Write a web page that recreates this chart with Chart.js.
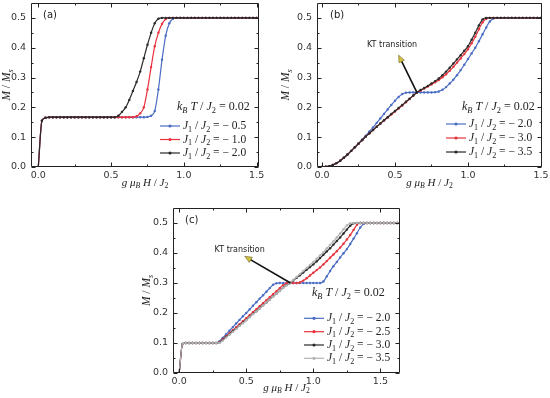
<!DOCTYPE html>
<html>
<head>
<meta charset="utf-8">
<script src="https://cdn.jsdelivr.net/npm/chart.js@4.4.0/dist/chart.umd.min.js"></script>
<style>
  body { margin: 0; background: #fff; width: 550px; height: 398px; position: relative; overflow: hidden; }
  .panel { position: absolute; }
  canvas { display: block; }
</style>
</head>
<body>
<div class="panel" style="left:0;top:0"><canvas id="chartA" width="275" height="195"></canvas></div>
<div class="panel" style="left:275px;top:0"><canvas id="chartB" width="275" height="195"></canvas></div>
<div class="panel" style="left:140px;top:195px"><canvas id="chartC" width="280" height="203"></canvas></div>
<script>
// field values g*muB*H/J2
var fieldAB = [0, 0.025, 0.05, 0.075, 0.1, 0.125, 0.15, 0.175, 0.2, 0.225,
  0.25, 0.275, 0.3, 0.325, 0.35, 0.375, 0.4, 0.425, 0.45, 0.475,
  0.5, 0.525, 0.55, 0.575, 0.6, 0.625, 0.65, 0.675, 0.7, 0.725,
  0.75, 0.775, 0.8, 0.825, 0.85, 0.875, 0.9, 0.925, 0.95, 0.975,
  1.0, 1.025, 1.05, 1.075, 1.1, 1.125, 1.15, 1.175, 1.2, 1.225,
  1.25, 1.275, 1.3, 1.325, 1.35, 1.375, 1.4, 1.425, 1.45, 1.475, 1.5];
var fieldC = [0, 0.025, 0.05, 0.075, 0.1, 0.125, 0.15, 0.175, 0.2, 0.225,
  0.25, 0.275, 0.3, 0.325, 0.35, 0.375, 0.4, 0.425, 0.45, 0.475,
  0.5, 0.525, 0.55, 0.575, 0.6, 0.625, 0.65, 0.675, 0.7, 0.725,
  0.75, 0.775, 0.8, 0.825, 0.85, 0.875, 0.9, 0.925, 0.95, 0.975,
  1.0, 1.025, 1.05, 1.075, 1.1, 1.125, 1.15, 1.175, 1.2, 1.225,
  1.25, 1.275, 1.3, 1.325, 1.35, 1.375, 1.4, 1.425, 1.45, 1.475,
  1.5, 1.525, 1.55, 1.575, 1.6, 1.625, 1.65];

// panel (a): M/Ms
var magA05 = [0, 0.155, 0.165, 0.167, 0.167, 0.167, 0.167, 0.167, 0.167, 0.167,
  0.167, 0.167, 0.167, 0.167, 0.167, 0.167, 0.167, 0.167, 0.167, 0.167,
  0.167, 0.167, 0.167, 0.167, 0.167, 0.167, 0.167, 0.167, 0.167, 0.167,
  0.168, 0.172, 0.188, 0.26, 0.36, 0.44, 0.482, 0.497, 0.5, 0.5,
  0.5, 0.5, 0.5, 0.5, 0.5, 0.5, 0.5, 0.5, 0.5, 0.5,
  0.5, 0.5, 0.5, 0.5, 0.5, 0.5, 0.5, 0.5, 0.5, 0.5, 0.5];
var magA10 = [0, 0.155, 0.165, 0.167, 0.167, 0.167, 0.167, 0.167, 0.167, 0.167,
  0.167, 0.167, 0.167, 0.167, 0.167, 0.167, 0.167, 0.167, 0.167, 0.167,
  0.167, 0.167, 0.167, 0.167, 0.167, 0.167, 0.167, 0.17, 0.18, 0.2,
  0.26, 0.335, 0.405, 0.45, 0.48, 0.496, 0.5, 0.5, 0.5, 0.5,
  0.5, 0.5, 0.5, 0.5, 0.5, 0.5, 0.5, 0.5, 0.5, 0.5,
  0.5, 0.5, 0.5, 0.5, 0.5, 0.5, 0.5, 0.5, 0.5, 0.5, 0.5];
var magA20 = [0, 0.155, 0.165, 0.167, 0.167, 0.167, 0.167, 0.167, 0.167, 0.167,
  0.167, 0.167, 0.167, 0.167, 0.167, 0.167, 0.167, 0.167, 0.167, 0.167,
  0.167, 0.167, 0.172, 0.185, 0.2, 0.225, 0.255, 0.285, 0.32, 0.365,
  0.41, 0.45, 0.482, 0.497, 0.5, 0.5, 0.5, 0.5, 0.5, 0.5,
  0.5, 0.5, 0.5, 0.5, 0.5, 0.5, 0.5, 0.5, 0.5, 0.5,
  0.5, 0.5, 0.5, 0.5, 0.5, 0.5, 0.5, 0.5, 0.5, 0.5, 0.5];

// panel (b)
var magB20 = [0, 0.001, 0.003, 0.007, 0.013, 0.021, 0.031, 0.042, 0.054, 0.066,
  0.079, 0.092, 0.105, 0.119, 0.133, 0.148, 0.163, 0.178, 0.193, 0.208,
  0.222, 0.235, 0.245, 0.249, 0.25, 0.25, 0.25, 0.25, 0.25, 0.25,
  0.25, 0.251, 0.253, 0.259, 0.268, 0.28, 0.293, 0.308, 0.325, 0.343,
  0.362, 0.381, 0.4, 0.422, 0.445, 0.468, 0.488, 0.498, 0.5, 0.5,
  0.5, 0.5, 0.5, 0.5, 0.5, 0.5, 0.5, 0.5, 0.5, 0.5, 0.5];
var magB30 = [0, 0.001, 0.003, 0.007, 0.013, 0.021, 0.031, 0.042, 0.054, 0.066,
  0.078, 0.09, 0.102, 0.113, 0.124, 0.135, 0.146, 0.156, 0.166, 0.176,
  0.186, 0.196, 0.206, 0.217, 0.228, 0.239, 0.25, 0.256, 0.263, 0.27,
  0.277, 0.284, 0.292, 0.301, 0.311, 0.323, 0.336, 0.35, 0.364, 0.379,
  0.395, 0.415, 0.437, 0.462, 0.485, 0.497, 0.5, 0.5, 0.5, 0.5,
  0.5, 0.5, 0.5, 0.5, 0.5, 0.5, 0.5, 0.5, 0.5, 0.5, 0.5];
var magB35 = [0, 0.001, 0.003, 0.007, 0.013, 0.021, 0.031, 0.042, 0.054, 0.066,
  0.078, 0.09, 0.102, 0.113, 0.124, 0.135, 0.146, 0.157, 0.167, 0.178,
  0.188, 0.198, 0.208, 0.219, 0.229, 0.24, 0.25, 0.258, 0.265, 0.272,
  0.28, 0.288, 0.297, 0.308, 0.32, 0.333, 0.347, 0.361, 0.375, 0.39,
  0.405, 0.427, 0.45, 0.475, 0.495, 0.5, 0.5, 0.5, 0.5, 0.5,
  0.5, 0.5, 0.5, 0.5, 0.5, 0.5, 0.5, 0.5, 0.5, 0.5, 0.5];

// panel (c)
var magC20 = [0, 0.097, 0.1, 0.1, 0.1, 0.1, 0.1, 0.1, 0.1, 0.1,
  0.1, 0.1, 0.106, 0.117, 0.129, 0.141, 0.153, 0.165, 0.177, 0.189,
  0.2, 0.212, 0.224, 0.236, 0.248, 0.259, 0.271, 0.283, 0.294, 0.299,
  0.3, 0.3, 0.3, 0.3, 0.3, 0.3, 0.3, 0.3, 0.3, 0.3,
  0.3, 0.3, 0.3, 0.305, 0.322, 0.34, 0.356, 0.37, 0.385, 0.399,
  0.413, 0.43, 0.448, 0.466, 0.485, 0.497, 0.5, 0.5, 0.5, 0.5,
  0.5, 0.5, 0.5, 0.5, 0.5, 0.5, 0.5];
var magC25 = [0, 0.097, 0.1, 0.1, 0.1, 0.1, 0.1, 0.1, 0.1, 0.1,
  0.1, 0.1, 0.103, 0.113, 0.123, 0.133, 0.143, 0.153, 0.163, 0.173,
  0.183, 0.193, 0.203, 0.213, 0.223, 0.233, 0.243, 0.253, 0.263, 0.273,
  0.283, 0.293, 0.299, 0.3, 0.3, 0.3, 0.302, 0.308, 0.316, 0.325,
  0.334, 0.343, 0.352, 0.362, 0.373, 0.384, 0.395, 0.406, 0.418, 0.431,
  0.445, 0.46, 0.477, 0.494, 0.5, 0.5, 0.5, 0.5, 0.5, 0.5,
  0.5, 0.5, 0.5, 0.5, 0.5, 0.5, 0.5];
var magC30 = [0, 0.097, 0.1, 0.1, 0.1, 0.1, 0.1, 0.1, 0.1, 0.1,
  0.1, 0.1, 0.102, 0.11, 0.12, 0.129, 0.139, 0.148, 0.158, 0.168,
  0.177, 0.187, 0.197, 0.206, 0.216, 0.226, 0.235, 0.245, 0.255, 0.264,
  0.274, 0.284, 0.293, 0.3, 0.308, 0.317, 0.326, 0.335, 0.344, 0.353,
  0.362, 0.372, 0.383, 0.394, 0.405, 0.416, 0.428, 0.44, 0.452, 0.465,
  0.478, 0.491, 0.499, 0.5, 0.5, 0.5, 0.5, 0.5, 0.5, 0.5,
  0.5, 0.5, 0.5, 0.5, 0.5, 0.5, 0.5];
var magC35 = [0, 0.097, 0.1, 0.1, 0.1, 0.1, 0.1, 0.1, 0.1, 0.1,
  0.1, 0.1, 0.101, 0.108, 0.118, 0.128, 0.137, 0.147, 0.157, 0.166,
  0.176, 0.186, 0.196, 0.205, 0.215, 0.225, 0.235, 0.245, 0.254, 0.264,
  0.274, 0.284, 0.292, 0.3, 0.31, 0.32, 0.33, 0.34, 0.35, 0.36,
  0.37, 0.381, 0.392, 0.403, 0.415, 0.427, 0.439, 0.452, 0.465, 0.479,
  0.492, 0.499, 0.5, 0.5, 0.5, 0.5, 0.5, 0.5, 0.5, 0.5,
  0.5, 0.5, 0.5, 0.5, 0.5, 0.5, 0.5];

var ratioA = ['\u2212 0.5', '\u2212 1.0', '\u2212 2.0'];
var ratioB = ['\u2212 2.0', '\u2212 3.0', '\u2212 3.5'];
var ratioC = ['\u2212 2.0', '\u2212 2.5', '\u2212 3.0', '\u2212 3.5'];

var xTicks = [0, 0.5, 1.0, 1.5];
var xMinor = [0.25, 0.75, 1.25];
var yTicks = [0, 0.1, 0.2, 0.3, 0.4, 0.5];
var yMinor = [0.05, 0.15, 0.25, 0.35, 0.45];

var blue = '#4a6cc3', red = '#e8323c', black = '#2b2b2b', grey = '#b3b3b3';
var serif = '"Liberation Serif", "DejaVu Serif", serif';
var sans = '"DejaVu Sans", sans-serif';

// draws text with italic parts and subscripts, returns width
function mathText(ctx, parts, x, y, size, align) {
  var fonts = [], w = 0, i;
  for (i = 0; i < parts.length; i++) {
    var st = parts[i][1];
    var sz = st.charAt(0) == 's' ? size * 0.7 : size;
    fonts.push((st.indexOf('i') >= 0 ? 'italic ' : '') + sz + 'px ' + serif);
    ctx.font = fonts[i];
    w += ctx.measureText(parts[i][0]).width;
  }
  var cx = align == 'center' ? x - w / 2 : x;
  ctx.textAlign = 'left';
  ctx.textBaseline = 'middle';
  for (i = 0; i < parts.length; i++) {
    ctx.font = fonts[i];
    var dy = parts[i][1].charAt(0) == 's' ? size * 0.3 : 0;
    ctx.fillText(parts[i][0], cx, y + dy);
    cx += ctx.measureText(parts[i][0]).width;
  }
  return w;
}

function makeChart(id, field, series, cfg) {
  var n = series.length;
  var datasets = series.map(function (s, k) {
    return {
      label: s.name,
      data: field.map(function (h, i) { return { x: h, y: s.vals[i] }; }),
      borderColor: s.color,
      backgroundColor: s.color,
      borderWidth: 1.2,
      pointRadius: 1.2,
      pointBorderWidth: 0,
      pointHoverRadius: 0,
      showLine: true,
      cubicInterpolationMode: 'monotone',
      order: n - 1 - k
    };
  });

  var deco = {
    id: 'deco',
    afterDraw: function (chart) {
      var ctx = chart.ctx, a = chart.chartArea;
      var xs = chart.scales.x, ys = chart.scales.y;
      ctx.save();
      // frame + inward ticks
      ctx.strokeStyle = '#222';
      ctx.lineWidth = 1;
      var L = Math.round(a.left) + 0.5, R = Math.round(a.right) - 0.5;
      var T = Math.round(a.top) + 0.5, B = Math.round(a.bottom) - 0.5;
      ctx.beginPath();
      ctx.moveTo(L, T); ctx.lineTo(R, T); ctx.lineTo(R, B); ctx.lineTo(L, B); ctx.closePath();
      function xt(v, len) {
        var p = Math.round(xs.getPixelForValue(v)) + 0.5;
        ctx.moveTo(p, B); ctx.lineTo(p, B - len);
        ctx.moveTo(p, T); ctx.lineTo(p, T + len);
      }
      function yt(v, len) {
        var p = Math.round(ys.getPixelForValue(v)) + 0.5;
        ctx.moveTo(L, p); ctx.lineTo(L + len, p);
        ctx.moveTo(R, p); ctx.lineTo(R - len, p);
      }
      xTicks.forEach(function (v) { xt(v, 4); });
      xMinor.forEach(function (v) { xt(v, 2); });
      yTicks.forEach(function (v) { yt(v, 4); });
      yMinor.forEach(function (v) { yt(v, 2); });
      ctx.stroke();

      ctx.fillStyle = '#222';
      // axis titles
      mathText(ctx, [['g ', 'i'], ['\u03bc', 'i'], ['B', 'si'], [' H', 'i'], [' / ', 'r'], ['J', 'i'], ['2', 'sr']],
        (a.left + a.right) / 2, cfg.xTitleY, 11, 'center');
      ctx.save();
      ctx.translate(cfg.yTitleX, (a.top + a.bottom) / 2);
      ctx.rotate(-Math.PI / 2);
      mathText(ctx, [['M', 'i'], [' / ', 'r'], ['M', 'i'], ['s', 'si']], 0, 0, 11.5, 'center');
      ctx.restore();

      // panel label
      ctx.font = '10px ' + sans;
      ctx.textAlign = 'left';
      ctx.textBaseline = 'middle';
      ctx.fillText(cfg.tag, cfg.tagX, cfg.tagY);

      // temperature note
      mathText(ctx, [['k', 'i'], ['B', 'si'], [' T', 'i'], [' / ', 'r'], ['J', 'i'], ['2', 'sr'], [' = 0.02', 'r']],
        cfg.noteX, cfg.noteY, 12, 'left');

      // legend
      series.forEach(function (s, k) {
        var y = cfg.legY[k];
        ctx.strokeStyle = s.color;
        ctx.lineWidth = 1.2;
        ctx.beginPath();
        ctx.moveTo(cfg.legX, y); ctx.lineTo(cfg.legX + 20, y);
        ctx.stroke();
        ctx.fillStyle = s.color;
        ctx.beginPath();
        ctx.arc(cfg.legX + 10, y, 1.6, 0, Math.PI * 2);
        ctx.fill();
        ctx.fillStyle = '#222';
        mathText(ctx, [['J', 'i'], ['1', 'sr'], [' / ', 'r'], ['J', 'i'], ['2', 'sr'], [' = ' + s.name, 'r']],
          cfg.legX + 23, y, 11.5, 'left');
      });

      // KT transition arrow
      if (cfg.kt) {
        var kt = cfg.kt;
        var tx = xs.getPixelForValue(kt.tip[0]), ty = ys.getPixelForValue(kt.tip[1]);
        var hx = xs.getPixelForValue(kt.head[0]), hy = ys.getPixelForValue(kt.head[1]);
        var ang = Math.atan2(hy - ty, hx - tx);
        ctx.strokeStyle = '#111';
        ctx.lineWidth = 1.6;
        ctx.beginPath();
        ctx.moveTo(tx, ty);
        ctx.lineTo(hx - 5 * Math.cos(ang), hy - 5 * Math.sin(ang));
        ctx.stroke();
        ctx.beginPath();
        ctx.moveTo(hx, hy);
        ctx.lineTo(hx - 7 * Math.cos(ang) + 3 * Math.sin(ang), hy - 7 * Math.sin(ang) - 3 * Math.cos(ang));
        ctx.lineTo(hx - 7 * Math.cos(ang) - 3 * Math.sin(ang), hy - 7 * Math.sin(ang) + 3 * Math.cos(ang));
        ctx.closePath();
        ctx.fillStyle = '#d2c23c';
        ctx.fill();
        ctx.strokeStyle = '#6a6530';
        ctx.lineWidth = 0.6;
        ctx.stroke();
        ctx.fillStyle = '#222';
        ctx.font = '8px ' + sans;
        ctx.textAlign = 'center';
        ctx.textBaseline = 'middle';
        ctx.fillText('KT transition', xs.getPixelForValue(kt.text[0]), ys.getPixelForValue(kt.text[1]));
      }
      ctx.restore();
    }
  };

  function noPad(sc) {
    sc.paddingLeft = 0; sc.paddingRight = 0; sc.paddingTop = 0; sc.paddingBottom = 0;
  }

  return new Chart(document.getElementById(id), {
    type: 'scatter',
    data: { datasets: datasets },
    options: {
      responsive: false,
      animation: false,
      layout: { padding: cfg.pad },
      plugins: { legend: { display: false }, tooltip: { enabled: false } },
      scales: {
        x: {
          type: 'linear', min: cfg.xMin, max: cfg.xMax,
          grid: { display: false, drawTicks: false }, border: { display: false },
          afterBuildTicks: function (sc) { sc.ticks = xTicks.map(function (v) { return { value: v }; }); },
          afterFit: function (sc) { sc.height = cfg.xH; noPad(sc); },
          ticks: { padding: 3, color: '#333', font: { family: sans, size: 9.5 }, maxRotation: 0, autoSkip: false,
            callback: function (v) { return v.toFixed(1); } }
        },
        y: {
          type: 'linear', min: 0, max: 0.55,
          grid: { display: false, drawTicks: false }, border: { display: false },
          afterBuildTicks: function (sc) { sc.ticks = yTicks.map(function (v) { return { value: v }; }); },
          afterFit: function (sc) { sc.width = cfg.yW; noPad(sc); },
          ticks: { padding: 5, color: '#333', font: { family: sans, size: 9.5 }, autoSkip: false,
            callback: function (v) { return v.toFixed(1); } }
        }
      }
    },
    plugins: [deco]
  });
}

makeChart('chartA', fieldAB, [
  { name: ratioA[0], vals: magA05, color: blue },
  { name: ratioA[1], vals: magA10, color: red },
  { name: ratioA[2], vals: magA20, color: black }
], {
  pad: { left: 0, top: 3, right: 16, bottom: 0 }, yW: 31, xH: 28,
  xMin: -0.05, xMax: 1.516,
  xTitleY: 183, yTitleX: 7,
  tag: '(a)', tagX: 43, tagY: 15,
  noteX: 177, noteY: 107,
  legX: 160, legY: [126, 139.5, 153],
  kt: null
});

makeChart('chartB', fieldAB, [
  { name: ratioB[0], vals: magB20, color: blue },
  { name: ratioB[1], vals: magB30, color: red },
  { name: ratioB[2], vals: magB35, color: black }
], {
  pad: { left: 0, top: 3, right: 8, bottom: 0 }, yW: 42, xH: 28,
  xMin: -0.034, xMax: 1.507,
  xTitleY: 183, yTitleX: 11,
  tag: '(b)', tagX: 55, tagY: 15,
  noteX: 187, noteY: 107,
  legX: 171, legY: [124, 138, 152],
  kt: { tip: [0.65, 0.25], head: [0.525, 0.375], text: [0.48, 0.41] }
});

makeChart('chartC', fieldC, [
  { name: ratioC[0], vals: magC20, color: blue },
  { name: ratioC[1], vals: magC25, color: red },
  { name: ratioC[2], vals: magC30, color: black },
  { name: ratioC[3], vals: magC35, color: grey }
], {
  pad: { left: 0, top: 13, right: 20, bottom: 0 }, yW: 33, xH: 25,
  xMin: -0.046, xMax: 1.646,
  xTitleY: 193, yTitleX: 7,
  tag: '(c)', tagX: 45, tagY: 25,
  noteX: 172, noteY: 98,
  legX: 164, legY: [123.3, 136.7, 150, 163.3],
  kt: { tip: [0.83, 0.3], head: [0.489, 0.389], text: [0.451, 0.41] }
});
</script>
</body>
</html>
